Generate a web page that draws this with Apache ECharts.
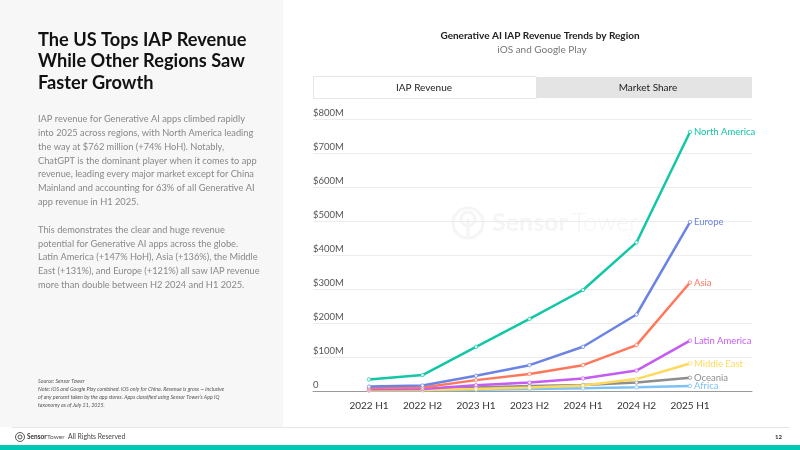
<!DOCTYPE html>
<html>
<head>
<meta charset="utf-8">
<script src="https://cdn.jsdelivr.net/npm/echarts@6/dist/echarts.min.js"></script>
<style>
  html, body { margin: 0; padding: 0; background: #fff; }
  #slide { width: 800px; height: 450px; }
</style>
</head>
<body>
<div id="slide"></div>
<script>
// half-year periods on the x axis
var periods = ['2022 H1', '2022 H2', '2023 H1', '2023 H2', '2024 H1', '2024 H2', '2025 H1'];

// IAP revenue, $M
var northAmerica = [34, 47, 130, 212, 297, 437, 762];
var europe = [13, 16, 45, 76, 130, 225, 497];
var asia = [9, 10, 32, 50, 76, 135, 319];
var latinAmerica = [5, 6, 17, 25, 37, 60, 148];
var middleEast = [2, 3, 6, 10, 16, 35, 81];
var oceania = [3, 4, 10, 15, 18, 25, 39];
var africa = [1, 2, 4, 6, 8, 11, 15];

var yTicks = [0, 100, 200, 300, 400, 500, 600, 700, 800];

var regions = [
  { name: 'Africa', data: africa, color: '#7cc2f4' },
  { name: 'Oceania', data: oceania, color: '#8e8e8e' },
  { name: 'Middle East', data: middleEast, color: '#ffd95e' },
  { name: 'Latin America', data: latinAmerica, color: '#c45bf3' },
  { name: 'Asia', data: asia, color: '#ff785c' },
  { name: 'Europe', data: europe, color: '#6c83e6' },
  { name: 'North America', data: northAmerica, color: '#12c7a6' }
];

var bodyText1 = [
  'IAP revenue for Generative AI apps climbed rapidly',
  'into 2025 across regions, with North America leading',
  'the way at $762 million (+74% HoH). Notably,',
  'ChatGPT is the dominant player when it comes to app',
  'revenue, leading every major market except for China',
  'Mainland and accounting for 63% of all Generative AI',
  'app revenue in H1 2025.'
];
var bodyText2 = [
  'This demonstrates the clear and huge revenue',
  'potential for Generative AI apps across the globe.',
  'Latin America (+147% HoH), Asia (+136%), the Middle',
  'East (+131%), and Europe (+121%) all saw IAP revenue',
  'more than double between H2 2024 and H1 2025.'
];
var headline = ['The US Tops IAP Revenue', 'While Other Regions Saw', 'Faster Growth'];
var notes = [
  'Source: Sensor Tower',
  'Note: iOS and Google Play combined. iOS only for China. Revenue is gross \u2014 inclusive',
  'of any percent taken by the app stores. Apps classified using Sensor Tower\u2019s App IQ',
  'taxonomy as of July 21, 2025.'
];

var FONT = 'Lato, "Noto Sans", sans-serif';

function textLine(str, x, y, size, color, weight, style) {
  return {
    type: 'text',
    x: x,
    y: y,
    silent: true,
    style: {
      text: str,
      fill: color,
      font: (style || 'normal') + ' ' + (weight || 'normal') + ' ' + size + 'px ' + FONT,
      textVerticalAlign: 'middle'
    }
  };
}

var graphics = [];
// left panel
graphics.push({ type: 'rect', shape: { x: 0, y: 0, width: 283, height: 427 }, style: { fill: '#f7f7f7' }, silent: true, z: -10 });
headline.forEach(function (s, i) {
  graphics.push(textLine(s, 38, 40 + i * 21.4, 18.2, '#111', 'bold'));
});
bodyText1.forEach(function (s, i) {
  graphics.push(textLine(s, 38, 119.5 + i * 13.75, 9.25, '#888', 'normal'));
});
bodyText2.forEach(function (s, i) {
  graphics.push(textLine(s, 38, 230 + i * 13.75, 9.25, '#888', 'normal'));
});
notes.forEach(function (s, i) {
  graphics.push(textLine(s, 38, 381.5 + i * 7.8, 5.3, '#555', 'normal', 'italic'));
});

// chart header
graphics.push({
  type: 'text', x: 540, y: 36, silent: true,
  style: { text: 'Generative AI IAP Revenue Trends by Region', fill: '#222', font: 'bold 10px ' + FONT, textAlign: 'center', textVerticalAlign: 'middle' }
});
graphics.push({
  type: 'text', x: 542, y: 50, silent: true,
  style: { text: 'iOS and Google Play', fill: '#777', font: 'normal 10px ' + FONT, textAlign: 'center', textVerticalAlign: 'middle' }
});

// tabs
graphics.push({ type: 'rect', shape: { x: 313.5, y: 76.5, width: 223, height: 22 }, style: { fill: '#fff', stroke: '#e6e6e6', lineWidth: 1 }, silent: true });
graphics.push({ type: 'rect', shape: { x: 536, y: 77, width: 216, height: 21 }, style: { fill: '#e4e4e4' }, silent: true });
graphics.push({
  type: 'text', x: 424, y: 88, silent: true,
  style: { text: 'IAP Revenue', fill: '#222', font: 'normal 10px ' + FONT, textAlign: 'center', textVerticalAlign: 'middle' }
});
graphics.push({
  type: 'text', x: 648, y: 88, silent: true,
  style: { text: 'Market Share', fill: '#222', font: 'normal 10px ' + FONT, textAlign: 'center', textVerticalAlign: 'middle' }
});

// watermark
var WM = '#f5f5f5';
graphics.push({ type: 'circle', shape: { cx: 468, cy: 223, r: 15 }, style: { fill: 'none', stroke: WM, lineWidth: 3 }, silent: true, z: -5 });
graphics.push({ type: 'circle', shape: { cx: 468, cy: 219, r: 7 }, style: { fill: 'none', stroke: WM, lineWidth: 3 }, silent: true, z: -5 });
graphics.push({ type: 'line', shape: { x1: 468, y1: 219, x2: 468, y2: 236 }, style: { stroke: WM, lineWidth: 3 }, silent: true, z: -5 });
graphics.push({
  type: 'text', x: 492, y: 223, silent: true, z: -5,
  style: { text: 'Sensor', fill: WM, font: 'bold 25px ' + FONT, textVerticalAlign: 'middle' }
});
graphics.push({
  type: 'text', x: 572, y: 223, silent: true, z: -5,
  style: { text: 'Tower', fill: WM, font: '300 25px ' + FONT, textVerticalAlign: 'middle' }
});

// footer
graphics.push({ type: 'line', shape: { x1: 12, y1: 427.5, x2: 790, y2: 427.5 }, style: { stroke: '#e6e6e6', lineWidth: 1 }, silent: true });
graphics.push({ type: 'circle', shape: { cx: 20, cy: 437, r: 4.5 }, style: { fill: 'none', stroke: '#555', lineWidth: 1 }, silent: true });
graphics.push({ type: 'circle', shape: { cx: 20, cy: 437, r: 2 }, style: { fill: 'none', stroke: '#555', lineWidth: 1 }, silent: true });
graphics.push(textLine('Sensor', 27, 437, 6.5, '#333', 'bold'));
graphics.push(textLine('Tower', 47, 437, 6.5, '#555', 'normal'));
graphics.push(textLine('All Rights Reserved', 68, 437, 6.8, '#444', 'normal'));
graphics.push(textLine('12', 775, 437, 6, '#333', 'bold'));
graphics.push({ type: 'rect', shape: { x: 0, y: 445, width: 800, height: 5 }, style: { fill: '#00c8b2' }, silent: true });

var chart = echarts.init(document.getElementById('slide'));

var option = {
  animation: false,
  backgroundColor: '#fff',
  textStyle: { fontFamily: FONT },
  grid: [
    { left: 313, right: 48, top: 119, bottom: 59 },
    { left: 369, right: 110, top: 119, bottom: 59 }
  ],
  xAxis: [
    {
      gridIndex: 0, type: 'category', data: periods,
      axisLine: { show: true, lineStyle: { color: '#9a9a9a', width: 1 } },
      axisTick: { show: false }, axisLabel: { show: false }, splitLine: { show: false }
    },
    {
      gridIndex: 1, type: 'category', data: periods, boundaryGap: false,
      axisLine: { show: false }, axisTick: { show: false },
      axisLabel: { color: '#333', fontSize: 10, margin: 10 }
    }
  ],
  yAxis: [
    {
      gridIndex: 0, type: 'value', min: 0, max: 800, interval: 100,
      axisLine: { show: false }, axisTick: { show: false },
      axisLabel: {
        inside: true, margin: 0, verticalAlign: 'bottom', color: '#555', fontSize: 9.5,
        padding: [0, 0, 1, 0],
        formatter: function (v) { return yTicks.indexOf(v) === 0 ? '0' : '$' + v + 'M'; }
      },
      splitLine: { show: true, lineStyle: { color: '#ececec', width: 1 } }
    },
    {
      gridIndex: 1, type: 'value', min: 0, max: 800, interval: 100,
      axisLine: { show: false }, axisTick: { show: false }, axisLabel: { show: false },
      splitLine: { show: false }
    }
  ],
  graphic: graphics,
  series: regions.map(function (r) {
    return {
      type: 'line',
      name: r.name,
      xAxisIndex: 1,
      yAxisIndex: 1,
      data: r.data,
      color: r.color,
      symbol: 'circle',
      symbolSize: 3.5,
      lineStyle: { width: 2.5, color: r.color },
      itemStyle: { color: '#ffffff', borderColor: r.color, borderWidth: 0.8, opacity: 0.9 },
      endLabel: {
        show: true,
        formatter: '{a}',
        color: r.color,
        fontSize: 9.5,
        distance: 4
      },
      z: 3
    };
  })
};

chart.setOption(option);
</script>
</body>
</html>
